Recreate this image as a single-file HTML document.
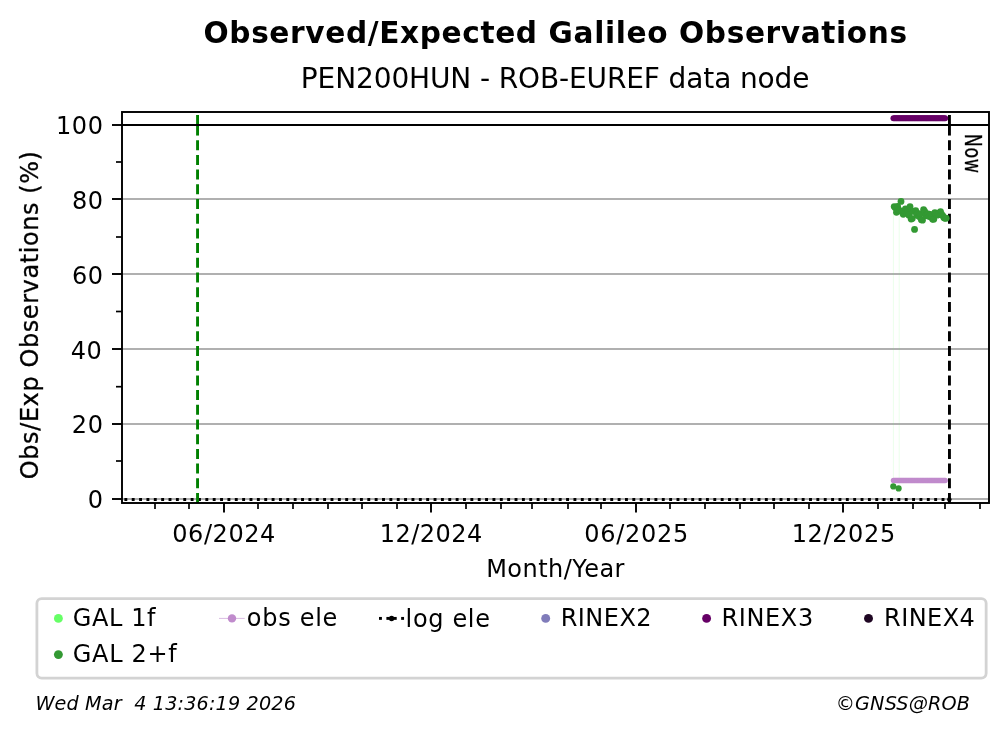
<!DOCTYPE html>
<html lang="en">
<head>
<meta charset="utf-8">
<title>Observed/Expected Galileo Observations - PEN200HUN</title>
<style>
html,body{margin:0;padding:0;background:#fff;}
body{width:1008px;height:734px;overflow:hidden;}
svg{display:block;will-change:transform;}
svg text{white-space:pre;}
</style>
</head>
<body>
<svg width="1008" height="734" viewBox="0 0 1008 734" font-family="'DejaVu Sans', 'Liberation Sans', sans-serif" fill="#000">
<rect width="1008" height="734" fill="#fff"/>
<line x1="122.0" x2="989.0" y1="125.0" y2="125.0" stroke="#b0b0b0" stroke-width="1.92"/>
<line x1="122.0" x2="989.0" y1="199.0" y2="199.0" stroke="#b0b0b0" stroke-width="1.92"/>
<line x1="122.0" x2="989.0" y1="274.0" y2="274.0" stroke="#b0b0b0" stroke-width="1.92"/>
<line x1="122.0" x2="989.0" y1="349.0" y2="349.0" stroke="#b0b0b0" stroke-width="1.92"/>
<line x1="122.0" x2="989.0" y1="424.0" y2="424.0" stroke="#b0b0b0" stroke-width="1.92"/>
<line x1="122.0" x2="989.0" y1="499.0" y2="499.0" stroke="#b0b0b0" stroke-width="1.92"/>
<line x1="893.4" x2="893.4" y1="208" y2="487" stroke="#66ff66" stroke-opacity="0.22" stroke-width="0.6"/>
<line x1="899.2" x2="899.2" y1="208" y2="487" stroke="#66ff66" stroke-opacity="0.22" stroke-width="0.6"/>
<line x1="124.38" x2="950.2" y1="499.45" y2="499.45" stroke="#000" stroke-width="2.9" stroke-dasharray="2.9 4.462"/>
<circle cx="949.3" cy="499.45" r="2.3" fill="#000"/>
<line x1="197.55" x2="197.55" y1="503.0" y2="135.3" stroke="#008000" stroke-width="2.9" stroke-dasharray="10 4.7"/>
<line x1="197.55" x2="197.55" y1="135.4" y2="115.0" stroke="#008000" stroke-width="2.9"/>
<line x1="949.45" x2="949.45" y1="503.0" y2="135.3" stroke="#000" stroke-width="2.9" stroke-dasharray="10 4.7"/>
<line x1="949.45" x2="949.45" y1="135.4" y2="115.0" stroke="#000" stroke-width="2.9"/>
<line x1="122.0" x2="989.0" y1="125" y2="125" stroke="#000" stroke-width="2.0"/>
<g fill="#c08bcc"><circle cx="893.50" cy="480.4" r="2.75"/><circle cx="894.62" cy="480.4" r="2.75"/><circle cx="895.74" cy="480.4" r="2.75"/><circle cx="896.87" cy="480.4" r="2.75"/><circle cx="897.99" cy="480.4" r="2.75"/><circle cx="899.11" cy="480.4" r="2.75"/><circle cx="900.23" cy="480.4" r="2.75"/><circle cx="901.35" cy="480.4" r="2.75"/><circle cx="902.48" cy="480.4" r="2.75"/><circle cx="903.60" cy="480.4" r="2.75"/><circle cx="904.72" cy="480.4" r="2.75"/><circle cx="905.84" cy="480.4" r="2.75"/><circle cx="906.96" cy="480.4" r="2.75"/><circle cx="908.09" cy="480.4" r="2.75"/><circle cx="909.21" cy="480.4" r="2.75"/><circle cx="910.33" cy="480.4" r="2.75"/><circle cx="911.45" cy="480.4" r="2.75"/><circle cx="912.57" cy="480.4" r="2.75"/><circle cx="913.70" cy="480.4" r="2.75"/><circle cx="914.82" cy="480.4" r="2.75"/><circle cx="915.94" cy="480.4" r="2.75"/><circle cx="917.06" cy="480.4" r="2.75"/><circle cx="918.18" cy="480.4" r="2.75"/><circle cx="919.31" cy="480.4" r="2.75"/><circle cx="920.43" cy="480.4" r="2.75"/><circle cx="921.55" cy="480.4" r="2.75"/><circle cx="922.67" cy="480.4" r="2.75"/><circle cx="923.79" cy="480.4" r="2.75"/><circle cx="924.92" cy="480.4" r="2.75"/><circle cx="926.04" cy="480.4" r="2.75"/><circle cx="927.16" cy="480.4" r="2.75"/><circle cx="928.28" cy="480.4" r="2.75"/><circle cx="929.40" cy="480.4" r="2.75"/><circle cx="930.53" cy="480.4" r="2.75"/><circle cx="931.65" cy="480.4" r="2.75"/><circle cx="932.77" cy="480.4" r="2.75"/><circle cx="933.89" cy="480.4" r="2.75"/><circle cx="935.01" cy="480.4" r="2.75"/><circle cx="936.14" cy="480.4" r="2.75"/><circle cx="937.26" cy="480.4" r="2.75"/><circle cx="938.38" cy="480.4" r="2.75"/><circle cx="939.50" cy="480.4" r="2.75"/><circle cx="940.62" cy="480.4" r="2.75"/><circle cx="941.75" cy="480.4" r="2.75"/><circle cx="942.87" cy="480.4" r="2.75"/><circle cx="943.99" cy="480.4" r="2.75"/><circle cx="945.11" cy="480.4" r="2.75"/></g>
<g fill="#660066"><circle cx="893.50" cy="118.2" r="3.05"/><circle cx="894.62" cy="118.2" r="3.05"/><circle cx="895.74" cy="118.2" r="3.05"/><circle cx="896.87" cy="118.2" r="3.05"/><circle cx="897.99" cy="118.2" r="3.05"/><circle cx="899.11" cy="118.2" r="3.05"/><circle cx="900.23" cy="118.2" r="3.05"/><circle cx="901.35" cy="118.2" r="3.05"/><circle cx="902.48" cy="118.2" r="3.05"/><circle cx="903.60" cy="118.2" r="3.05"/><circle cx="904.72" cy="118.2" r="3.05"/><circle cx="905.84" cy="118.2" r="3.05"/><circle cx="906.96" cy="118.2" r="3.05"/><circle cx="908.09" cy="118.2" r="3.05"/><circle cx="909.21" cy="118.2" r="3.05"/><circle cx="910.33" cy="118.2" r="3.05"/><circle cx="911.45" cy="118.2" r="3.05"/><circle cx="912.57" cy="118.2" r="3.05"/><circle cx="913.70" cy="118.2" r="3.05"/><circle cx="914.82" cy="118.2" r="3.05"/><circle cx="915.94" cy="118.2" r="3.05"/><circle cx="917.06" cy="118.2" r="3.05"/><circle cx="918.18" cy="118.2" r="3.05"/><circle cx="919.31" cy="118.2" r="3.05"/><circle cx="920.43" cy="118.2" r="3.05"/><circle cx="921.55" cy="118.2" r="3.05"/><circle cx="922.67" cy="118.2" r="3.05"/><circle cx="923.79" cy="118.2" r="3.05"/><circle cx="924.92" cy="118.2" r="3.05"/><circle cx="926.04" cy="118.2" r="3.05"/><circle cx="927.16" cy="118.2" r="3.05"/><circle cx="928.28" cy="118.2" r="3.05"/><circle cx="929.40" cy="118.2" r="3.05"/><circle cx="930.53" cy="118.2" r="3.05"/><circle cx="931.65" cy="118.2" r="3.05"/><circle cx="932.77" cy="118.2" r="3.05"/><circle cx="933.89" cy="118.2" r="3.05"/><circle cx="935.01" cy="118.2" r="3.05"/><circle cx="936.14" cy="118.2" r="3.05"/><circle cx="937.26" cy="118.2" r="3.05"/><circle cx="938.38" cy="118.2" r="3.05"/><circle cx="939.50" cy="118.2" r="3.05"/><circle cx="940.62" cy="118.2" r="3.05"/><circle cx="941.75" cy="118.2" r="3.05"/><circle cx="942.87" cy="118.2" r="3.05"/><circle cx="943.99" cy="118.2" r="3.05"/><circle cx="945.11" cy="118.2" r="3.05"/></g>
<g fill="#339933"><circle cx="894.21" cy="206.57" r="3.4"/><circle cx="895.34" cy="207.86" r="3.4"/><circle cx="896.47" cy="212.29" r="3.4"/><circle cx="897.60" cy="206.29" r="3.4"/><circle cx="898.73" cy="210.00" r="3.4"/><circle cx="899.86" cy="210.86" r="3.4"/><circle cx="900.99" cy="201.43" r="3.4"/><circle cx="902.12" cy="211.43" r="3.4"/><circle cx="903.25" cy="214.29" r="3.4"/><circle cx="904.38" cy="210.71" r="3.4"/><circle cx="905.51" cy="208.79" r="3.4"/><circle cx="906.64" cy="211.57" r="3.4"/><circle cx="907.77" cy="210.00" r="3.4"/><circle cx="908.90" cy="215.14" r="3.4"/><circle cx="910.03" cy="206.64" r="3.4"/><circle cx="911.16" cy="219.07" r="3.4"/><circle cx="912.29" cy="218.57" r="3.4"/><circle cx="913.42" cy="211.43" r="3.4"/><circle cx="914.55" cy="229.43" r="3.4"/><circle cx="915.68" cy="210.57" r="3.4"/><circle cx="916.81" cy="215.00" r="3.4"/><circle cx="917.94" cy="213.57" r="3.4"/><circle cx="919.07" cy="216.57" r="3.4"/><circle cx="920.20" cy="213.79" r="3.4"/><circle cx="921.33" cy="219.64" r="3.4"/><circle cx="922.46" cy="220.14" r="3.4"/><circle cx="923.59" cy="209.71" r="3.4"/><circle cx="924.72" cy="211.43" r="3.4"/><circle cx="925.85" cy="215.86" r="3.4"/><circle cx="926.98" cy="214.29" r="3.4"/><circle cx="928.11" cy="213.79" r="3.4"/><circle cx="929.24" cy="216.57" r="3.4"/><circle cx="930.37" cy="214.50" r="3.4"/><circle cx="931.50" cy="217.14" r="3.4"/><circle cx="932.63" cy="219.29" r="3.4"/><circle cx="933.76" cy="219.14" r="3.4"/><circle cx="934.89" cy="212.71" r="3.4"/><circle cx="936.02" cy="213.57" r="3.4"/><circle cx="937.15" cy="215.14" r="3.4"/><circle cx="938.28" cy="214.64" r="3.4"/><circle cx="939.41" cy="212.86" r="3.4"/><circle cx="940.54" cy="211.64" r="3.4"/><circle cx="941.67" cy="214.29" r="3.4"/><circle cx="942.80" cy="215.86" r="3.4"/><circle cx="943.93" cy="217.86" r="3.4"/><circle cx="945.06" cy="218.36" r="3.4"/><circle cx="946.19" cy="218.21" r="3.4"/><circle cx="893.30" cy="486.40" r="3.1"/><circle cx="898.60" cy="488.40" r="3.1"/></g>
<rect x="122.0" y="112.0" width="867.0" height="391.0" fill="none" stroke="#000" stroke-width="1.92" stroke-linejoin="miter"/>
<line x1="112.0" x2="122.0" y1="125.0" y2="125.0" stroke="#000" stroke-width="1.92"/>
<line x1="112.0" x2="122.0" y1="199.0" y2="199.0" stroke="#000" stroke-width="1.92"/>
<line x1="112.0" x2="122.0" y1="274.0" y2="274.0" stroke="#000" stroke-width="1.92"/>
<line x1="112.0" x2="122.0" y1="349.0" y2="349.0" stroke="#000" stroke-width="1.92"/>
<line x1="112.0" x2="122.0" y1="424.0" y2="424.0" stroke="#000" stroke-width="1.92"/>
<line x1="112.0" x2="122.0" y1="499.0" y2="499.0" stroke="#000" stroke-width="1.92"/>
<line x1="116.0" x2="122.0" y1="162.0" y2="162.0" stroke="#000" stroke-width="1.7"/>
<line x1="116.0" x2="122.0" y1="237.0" y2="237.0" stroke="#000" stroke-width="1.7"/>
<line x1="116.0" x2="122.0" y1="311.5" y2="311.5" stroke="#000" stroke-width="1.7"/>
<line x1="116.0" x2="122.0" y1="386.7" y2="386.7" stroke="#000" stroke-width="1.7"/>
<line x1="116.0" x2="122.0" y1="461.0" y2="461.0" stroke="#000" stroke-width="1.7"/>
<line x1="155" x2="155" y1="503.0" y2="509.0" stroke="#000" stroke-width="1.7"/>
<line x1="189" x2="189" y1="503.0" y2="509.0" stroke="#000" stroke-width="1.7"/>
<line x1="224" x2="224" y1="503.0" y2="512.6" stroke="#000" stroke-width="1.92"/>
<line x1="258" x2="258" y1="503.0" y2="509.0" stroke="#000" stroke-width="1.7"/>
<line x1="293" x2="293" y1="503.0" y2="509.0" stroke="#000" stroke-width="1.7"/>
<line x1="328" x2="328" y1="503.0" y2="509.0" stroke="#000" stroke-width="1.7"/>
<line x1="362" x2="362" y1="503.0" y2="509.0" stroke="#000" stroke-width="1.7"/>
<line x1="397" x2="397" y1="503.0" y2="509.0" stroke="#000" stroke-width="1.7"/>
<line x1="431" x2="431" y1="503.0" y2="512.6" stroke="#000" stroke-width="1.92"/>
<line x1="466" x2="466" y1="503.0" y2="509.0" stroke="#000" stroke-width="1.7"/>
<line x1="501" x2="501" y1="503.0" y2="509.0" stroke="#000" stroke-width="1.7"/>
<line x1="532" x2="532" y1="503.0" y2="509.0" stroke="#000" stroke-width="1.7"/>
<line x1="568" x2="568" y1="503.0" y2="509.0" stroke="#000" stroke-width="1.7"/>
<line x1="601" x2="601" y1="503.0" y2="509.0" stroke="#000" stroke-width="1.7"/>
<line x1="636" x2="636" y1="503.0" y2="512.6" stroke="#000" stroke-width="1.92"/>
<line x1="670" x2="670" y1="503.0" y2="509.0" stroke="#000" stroke-width="1.7"/>
<line x1="705" x2="705" y1="503.0" y2="509.0" stroke="#000" stroke-width="1.7"/>
<line x1="740" x2="740" y1="503.0" y2="509.0" stroke="#000" stroke-width="1.7"/>
<line x1="774" x2="774" y1="503.0" y2="509.0" stroke="#000" stroke-width="1.7"/>
<line x1="809" x2="809" y1="503.0" y2="509.0" stroke="#000" stroke-width="1.7"/>
<line x1="843" x2="843" y1="503.0" y2="512.6" stroke="#000" stroke-width="1.92"/>
<line x1="878" x2="878" y1="503.0" y2="509.0" stroke="#000" stroke-width="1.7"/>
<line x1="913" x2="913" y1="503.0" y2="509.0" stroke="#000" stroke-width="1.7"/>
<line x1="945" x2="945" y1="503.0" y2="509.0" stroke="#000" stroke-width="1.7"/>
<line x1="980" x2="980" y1="503.0" y2="509.0" stroke="#000" stroke-width="1.7"/>
<text x="55.93" y="134.00" font-size="24" letter-spacing="0.624" >100</text>
<text x="71.96" y="209.00" font-size="24" letter-spacing="0.476" >80</text>
<text x="71.89" y="284.00" font-size="24" letter-spacing="0.555" >60</text>
<text x="70.67" y="359.00" font-size="24" letter-spacing="0.633" >40</text>
<text x="71.86" y="433.00" font-size="24" letter-spacing="0.580" >20</text>
<text x="87.71" y="508.00" font-size="24" letter-spacing="0.000" >0</text>
<text x="172.25" y="541.80" font-size="24" letter-spacing="0.570" >06/2024</text>
<text x="379.66" y="541.80" font-size="24" letter-spacing="0.465" >12/2024</text>
<text x="584.25" y="541.80" font-size="24" letter-spacing="0.699" >06/2025</text>
<text x="791.66" y="541.80" font-size="24" letter-spacing="0.635" >12/2025</text>
<text x="203.54" y="43.00" font-size="29.6" font-weight="bold" letter-spacing="0.628" >Observed/Expected Galileo Observations</text>
<text x="300.86" y="88.00" font-size="28.0" letter-spacing="-0.126" >PEN200HUN - ROB-EUREF data node</text>
<text x="486.13" y="576.50" font-size="24" letter-spacing="0.470" >Month/Year</text>
<g transform="translate(38.0,477.9) rotate(-90)" stroke="#000" stroke-width="0.3"><text x="-1.28" y="0.00" font-size="24" letter-spacing="0.582" >Obs/Exp Observations (%)</text></g>
<g transform="translate(964.9,133.8) rotate(90) scale(0.735,1)" stroke="#000" stroke-width="0.35"><text x="0.00" y="0.00" font-size="23.8" letter-spacing="0.822" >Now</text></g>
<rect x="36.9" y="598.55" width="949.25" height="79.55" rx="4.8" ry="4.8" fill="#fff" stroke="#d3d3d3" stroke-width="2.8"/>
<circle cx="58.4" cy="618.4" r="4.45" fill="#66ff66"/>
<text x="72.79" y="625.80" font-size="24" letter-spacing="0.600" >GAL 1f</text>
<circle cx="58.4" cy="654.6" r="4.45" fill="#339933"/>
<text x="72.79" y="661.90" font-size="24" letter-spacing="0.682" >GAL 2+f</text>
<line x1="219.0" x2="244.7" y1="618.4" y2="618.4" stroke="#c08bcc" stroke-width="0.6"/>
<circle cx="232.0" cy="618.4" r="4.2" fill="#c08bcc"/>
<text x="246.82" y="625.80" font-size="24" letter-spacing="0.704" >obs ele</text>
<rect x="379.0" y="616.95" width="2.9" height="2.9" fill="#000"/>
<rect x="386.4" y="616.95" width="2.9" height="2.9" fill="#000"/>
<rect x="393.8" y="616.95" width="2.9" height="2.9" fill="#000"/>
<rect x="401.15" y="616.95" width="2.9" height="2.9" fill="#000"/>
<circle cx="391.6" cy="618.50" r="2.7" fill="#000"/>
<text x="405.62" y="626.80" font-size="24" letter-spacing="0.656" >log ele</text>
<circle cx="545.7" cy="618.4" r="4.45" fill="#807cba"/>
<text x="560.66" y="625.80" font-size="24" letter-spacing="0.476" >RINEX2</text>
<circle cx="706.6" cy="618.4" r="4.45" fill="#660066"/>
<text x="721.56" y="625.80" font-size="24" letter-spacing="0.610" >RINEX3</text>
<circle cx="868.5" cy="618.4" r="4.45" fill="#1f0623"/>
<text x="884.03" y="625.80" font-size="24" letter-spacing="0.438" >RINEX4</text>
<text x="35.39" y="709.55" font-size="19.2" font-style="italic" letter-spacing="0.157" xml:space="preserve">Wed Mar  4 13:36:19 2026</text>
<text x="835.73" y="709.60" font-size="19.2" font-style="italic" letter-spacing="0.169" >©GNSS@ROB</text>
</svg>
</body>
</html>
